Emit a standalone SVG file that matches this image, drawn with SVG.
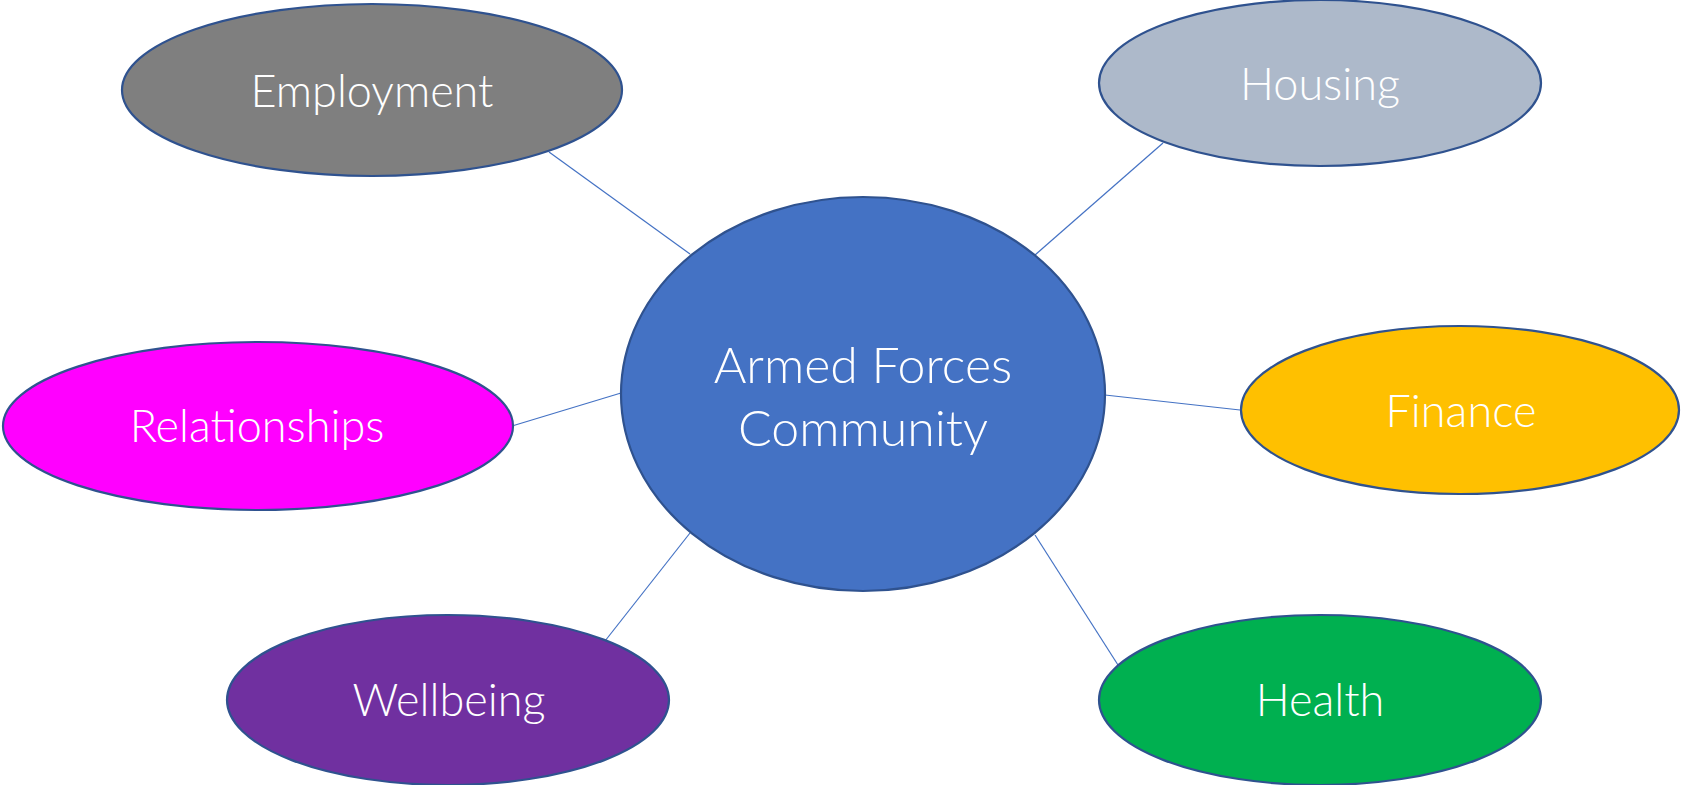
<svg xmlns="http://www.w3.org/2000/svg" width="1681" height="785" viewBox="0 0 1681 785">
  <style>
    .bubble { stroke: #2f528f; stroke-width: 2.2; }
    .label { font-family: Lato, "Liberation Sans", sans-serif; font-weight: 300; font-size: 45px; fill: #ffffff; text-anchor: middle; }
    .hub-label { font-size: 50px; }
    .link { stroke: #4472c4; stroke-width: 1.2; fill: none; }
  </style>
  <rect width="1681" height="785" fill="#ffffff"/>

  <!-- spokes from the hub to each topic -->
  <g id="connectors">
    <line class="link" x1="549" y1="152" x2="690" y2="254"/>
    <line class="link" x1="1163" y1="143" x2="1035" y2="255"/>
    <line class="link" x1="512" y1="426" x2="621" y2="393"/>
    <line class="link" x1="1105" y1="395" x2="1240" y2="410"/>
    <line class="link" x1="605" y1="641" x2="690" y2="533"/>
    <line class="link" x1="1118" y1="665" x2="1035" y2="535"/>
  </g>

  <g id="hub">
    <ellipse class="bubble" cx="863" cy="394" rx="242" ry="197" fill="#4472c4"/>
    <text class="label hub-label" x="863" y="383">Armed Forces</text>
    <text class="label hub-label" x="863" y="446">Community</text>
  </g>

  <g id="employment">
    <ellipse class="bubble" cx="372" cy="90" rx="250" ry="86" fill="#7f7f7f"/>
    <text class="label" x="372" y="107">Employment</text>
  </g>

  <g id="housing">
    <ellipse class="bubble" cx="1320" cy="83" rx="221" ry="83" fill="#adb9ca"/>
    <text class="label" x="1320" y="100">Housing</text>
  </g>

  <g id="relationships">
    <ellipse class="bubble" cx="258" cy="426" rx="255" ry="84" fill="#ff00ff"/>
    <text class="label" x="257" y="442">Relationships</text>
  </g>

  <g id="finance">
    <ellipse class="bubble" cx="1460" cy="410" rx="219" ry="84" fill="#ffc000"/>
    <text class="label" x="1461" y="427">Finance</text>
  </g>

  <g id="wellbeing">
    <ellipse class="bubble" cx="448" cy="700" rx="221" ry="85" fill="#7030a0"/>
    <text class="label" x="449" y="716">Wellbeing</text>
  </g>

  <g id="health">
    <ellipse class="bubble" cx="1320" cy="700" rx="221" ry="85" fill="#00b050"/>
    <text class="label" x="1320" y="716">Health</text>
  </g>
</svg>
